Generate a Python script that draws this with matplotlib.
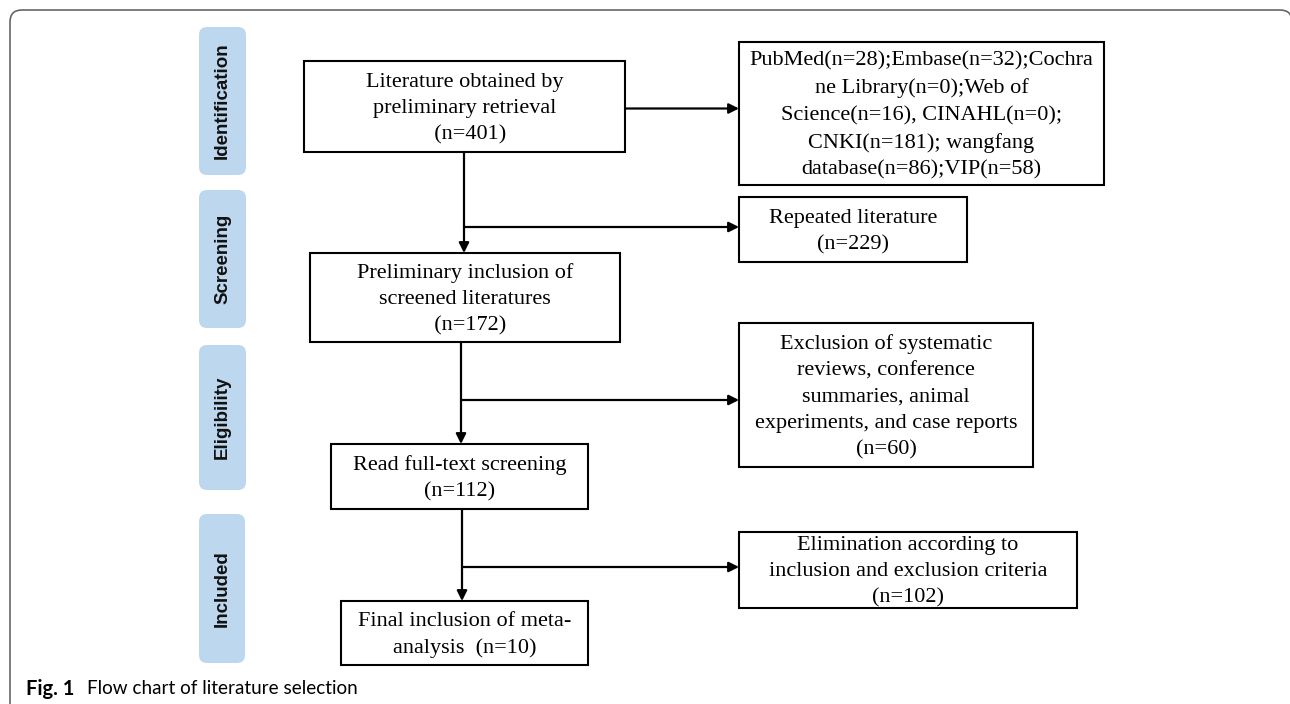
import matplotlib
matplotlib.use("Agg")

import matplotlib.pyplot as plt
from matplotlib.patches import FancyBboxPatch, Rectangle

# stage labels on the left
stages = ["Identification", "Screening", "Eligibility", "Included"]

# main flow boxes (top to bottom)
main_labels = [
    "Literature obtained by\npreliminary retrieval\n  (n=401)",
    "Preliminary inclusion of\nscreened literatures\n  (n=172)",
    "Read full-text screening\n(n=112)",
    "Final inclusion of meta-\nanalysis  (n=10)",
]

# side boxes (right column)
side_labels = [
    "PubMed(n=28);Embase(n=32);Cochra\nne Library(n=0);Web of\nScience(n=16), CINAHL(n=0);\nCNKI(n=181); wangfang\ndatabase(n=86);VIP(n=58)",
    "Repeated literature\n(n=229)",
    "Exclusion of systematic\nreviews, conference\nsummaries, animal\nexperiments, and case reports\n(n=60)",
    "Elimination according to\ninclusion and exclusion criteria\n(n=102)",
]

caption_bold = "Fig. 1"
caption_text = "Flow chart of literature selection"

# layout (pixel coordinates, y down)
W, H = 1290, 704
stage_boxes = [(199, 27, 47, 148), (199, 190, 47, 138), (199, 345, 47, 145), (199, 514, 46, 149)]
main_boxes = [(304, 61, 321, 91), (310, 253, 310, 89), (331, 444, 257, 65), (341, 601, 247, 64)]
side_boxes = [(739, 42, 365, 143), (739, 197, 228, 65), (739, 323, 294, 144), (739, 532, 338, 76)]
flow_x = [464, 461, 462]
branch_y = [227, 400, 567]

fig = plt.figure(figsize=(W / 100, H / 100), dpi=100)
ax = fig.add_axes([0, 0, 1, 1])
ax.set_xlim(0, W)
ax.set_ylim(H, 0)
ax.axis("off")

# outer frame (right and bottom edges fall just outside the image)
frame = FancyBboxPatch((10, 10), 1282, 2000, boxstyle="round,pad=0,rounding_size=12",
                       facecolor="none", edgecolor="#666666", lw=1.2)
ax.add_patch(frame)

for (x, y, w, h), name in zip(stage_boxes, stages):
    ax.add_patch(FancyBboxPatch((x, y), w, h, boxstyle="round,pad=0,rounding_size=8",
                                facecolor="#bdd7ee", edgecolor="none"))
    ax.text(x + w / 2, y + h / 2, name, rotation=90, ha="center", va="center",
            fontsize=13.5, fontweight="bold", family="Liberation Sans", color="#111111")

for (x, y, w, h), label in zip(main_boxes + side_boxes, main_labels + side_labels):
    ax.add_patch(Rectangle((x, y), w, h, facecolor="white", edgecolor="black", lw=1.5))
    ax.text(x + w / 2, y + h / 2 + 2, label, ha="center", va="center", fontsize=16,
            family="Liberation Serif", linespacing=1.52, multialignment="center")

arrow_kw = dict(arrowstyle="-|>", color="black", lw=1.6, mutation_scale=15,
                shrinkA=0, shrinkB=0)

for i in range(3):
    top = main_boxes[i][1] + main_boxes[i][3]
    bottom = main_boxes[i + 1][1]
    x = flow_x[i]
    ax.annotate("", xy=(x, bottom), xytext=(x, top), arrowprops=arrow_kw)
    ax.annotate("", xy=(side_boxes[i + 1][0], branch_y[i]), xytext=(x, branch_y[i]),
                arrowprops=arrow_kw)

# first box to database list
b = main_boxes[0]
yc = b[1] + b[3] / 2 + 2
ax.annotate("", xy=(side_boxes[0][0], yc), xytext=(b[0] + b[2], yc), arrowprops=arrow_kw)

ax.text(26, 689, caption_bold, ha="left", va="center", fontsize=14.5,
        fontweight="bold", family="Lato")
ax.text(87, 689, caption_text, ha="left", va="center", fontsize=13.6, family="Lato")

fig.savefig("out.png", dpi=100)
